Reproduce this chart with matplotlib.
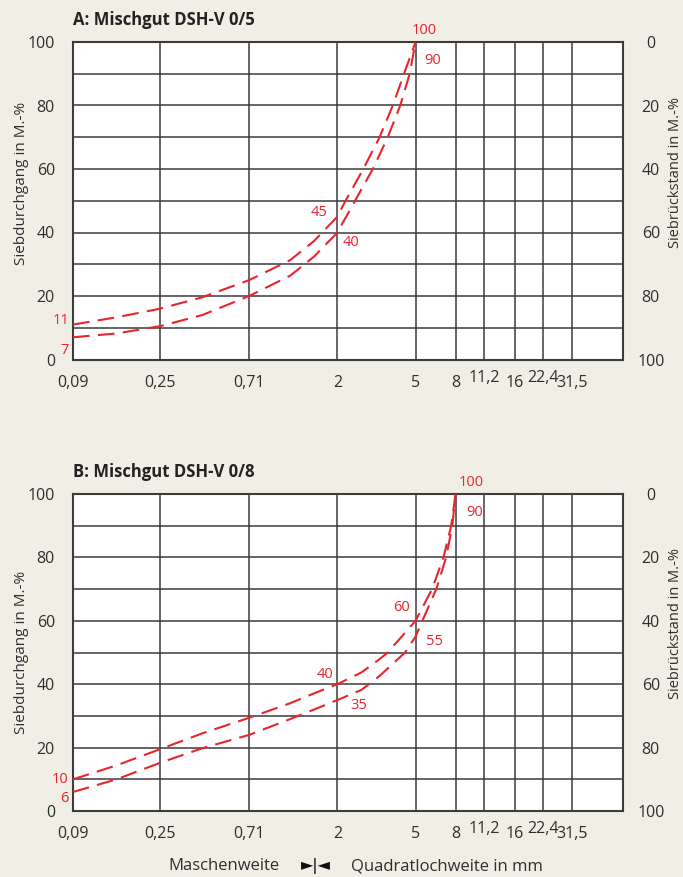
import matplotlib
matplotlib.use("Agg")
import matplotlib.pyplot as plt
from matplotlib.transforms import ScaledTranslation

# Sieve sizes (mm) and their tick labels
sieves = [0.09, 0.25, 0.71, 2, 5, 8, 11.2, 16, 22.4, 31.5]
sieve_labels = ["0,09", "0,25", "0,71", "2", "5", "8", "11,2", "16", "22,4", "31,5"]
raised_labels = ["11,2", "22,4"]

pass_ticks = list(range(0, 101, 10))
pass_labels = [str(v) if v % 20 == 0 else "" for v in pass_ticks]

# A: DSH-V 0/5 grading limits (sieve mm, passing %)
a_upper_x = [0.09, 0.15, 0.25, 0.41, 0.71, 1.15, 1.52, 2.0, 2.2, 2.71, 3.28, 3.83, 4.37, 5.0]
a_upper_y = [11, 13.3, 16, 19.6, 25, 31.3, 37.3, 45, 50, 60, 70, 80, 90, 100]
a_lower_x = [0.09, 0.15, 0.25, 0.41, 0.71, 1.15, 1.52, 2.0, 2.46, 3.03, 3.61, 4.18, 4.67, 5.0]
a_lower_y = [7, 8.2, 10.5, 14, 20, 26.4, 32.4, 40, 50, 60, 70, 80, 90, 100]

# B: DSH-V 0/8 grading limits
b_upper_x = [0.09, 0.15, 0.25, 0.41, 0.71, 1.15, 1.52, 2.0, 2.65, 3.28, 3.61, 5.0, 6.07, 6.94, 7.6, 8.0]
b_upper_y = [10, 14.4, 19.5, 24.5, 29.4, 34, 37.1, 40, 43.7, 47.9, 50, 60, 70, 80, 90, 100]
b_lower_x = [0.09, 0.15, 0.25, 0.41, 0.71, 1.15, 1.52, 2.0, 2.65, 3.28, 4.42, 5.0, 5.42, 6.38, 7.16, 7.7, 8.0]
b_lower_y = [6, 10, 15.2, 19.8, 24, 29, 32, 35, 38.2, 42.6, 50, 55, 60, 70, 80, 90, 100]

# Value labels: (text, sieve, passing, dx px, dy px)
a_notes = [("100", 5, 100, 9, 12), ("90", 5, 90, 17, 13), ("45", 2, 45, -18, 4),
           ("40", 2, 40, 14, -10), ("11", 0.09, 11, -12, 4), ("7", 0.09, 7, -8, -13)]
b_notes = [("100", 8, 100, 16, 12), ("90", 8, 90, 19, 13), ("60", 5, 60, -14, 13),
           ("55", 5, 55, 19, -5), ("40", 2, 40, -12, 10), ("35", 2, 35, 21, -5),
           ("10", 0.09, 10, -13, 0), ("6", 0.09, 6, -9, -7)]

BG = "#f1eee6"
INK = "#2e2e2e"
GRID = "#3c3c3c"
RED = "#e8242c"

plt.rcParams["font.family"] = ["Open Sans", "DejaVu Sans"]
plt.rcParams["text.color"] = INK

W, H = 683, 877
fig = plt.figure(figsize=(W / 100, H / 100), dpi=100, facecolor=BG)


def panel(top_px, bottom_px, title, upper, lower, notes, left_lab_y, right_lab_y):
    ax = fig.add_axes([73 / W, 1 - bottom_px / H, (623 - 73) / W, (bottom_px - top_px) / H])
    ax.set_facecolor("white")
    ax.set_xscale("log")
    ax.set_xlim(0.09, 57)
    ax.set_ylim(0, 100)
    ax.minorticks_off()

    ax.set_xticks(sieves, sieve_labels, fontsize=11.5, color=INK)
    ax.set_yticks(pass_ticks, pass_labels, fontsize=11.5, color=INK)
    ax.tick_params(axis="x", length=0, pad=11)
    ax.tick_params(axis="y", length=0, pad=13)
    ax.grid(True, color=GRID, linewidth=1.1)
    ax.set_axisbelow(True)
    for s in ax.spines.values():
        s.set_color(GRID)
        s.set_linewidth(1.5)
    for lab in ax.get_xticklabels():
        if lab.get_text() in raised_labels:
            lab.set_transform(lab.get_transform() + ScaledTranslation(0, 5 / 100, fig.dpi_scale_trans))

    ax2 = ax.twinx()
    ax2.set_ylim(100, 0)
    ax2.set_yticks(list(range(0, 101, 20)), [str(v) for v in range(0, 101, 20)],
                   fontsize=11.5, color=INK, ha="center")
    ax2.tick_params(axis="y", length=0, pad=20)
    for s in ax2.spines.values():
        s.set_visible(False)

    for xs, ys in (upper, lower):
        ax.plot(xs, ys, color=RED, linewidth=1.5, dashes=(8, 4), solid_capstyle="butt",
                dash_capstyle="butt", clip_on=False, zorder=3)

    for txt, x, y, dx, dy in notes:
        ax.annotate(txt, xy=(x, y), xytext=(dx, dy), textcoords="offset pixels",
                    ha="center", va="center", color=RED, fontsize=10.5, annotation_clip=False)

    ax.set_title(title, loc="left", fontsize=12, fontweight="bold", color="#222222", pad=12)

    ax.set_ylabel("Siebdurchgang in M.-%", fontsize=11, color=INK)
    ax.yaxis.set_label_coords(-0.080, left_lab_y)
    ax2.set_ylabel("Siebrückstand in M.-%", fontsize=10.5, color=INK, rotation=90)
    ax2.yaxis.set_label_coords(1.081, right_lab_y)
    return ax


panel(42, 359.5, "A: Mischgut DSH-V 0/5", (a_upper_x, a_upper_y), (a_lower_x, a_lower_y),
      a_notes, 0.555, 0.59)
panel(494, 811, "B: Mischgut DSH-V 0/8", (b_upper_x, b_upper_y), (b_lower_x, b_lower_y),
      b_notes, 0.50, 0.59)

ylab = 1 - 866.5 / H
fig.text(279 / W, ylab, "Maschenweite", ha="right", va="center", fontsize=12, color=INK)
fig.text(316 / W, ylab, "►|◄", ha="center", va="center", fontsize=11.5, color="#111111",
         family=["DejaVu Sans"])
fig.text(351 / W, ylab, "Quadratlochweite in mm", ha="left", va="center", fontsize=12, color=INK)

fig.savefig("out.png", dpi=100, facecolor=BG)
